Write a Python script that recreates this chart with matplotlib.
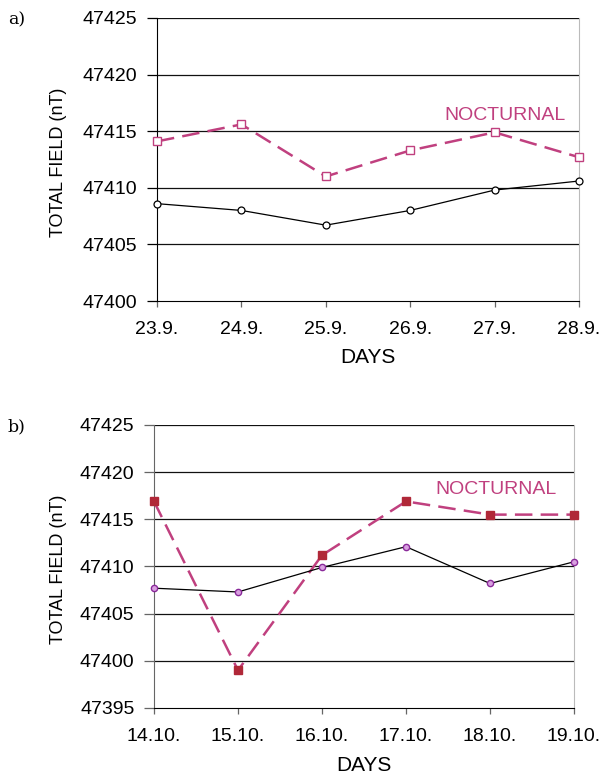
import matplotlib
matplotlib.use("Agg")
import matplotlib.pyplot as plt

plt.rcParams['font.family'] = ['Liberation Sans', 'DejaVu Sans']

days_a = ["23.9.", "24.9.", "25.9.", "26.9.", "27.9.", "28.9."]
noct_a = [47414.1, 47415.6, 47411.0, 47413.3, 47414.9, 47412.7]
day_a = [47408.6, 47408.0, 47406.7, 47408.0, 47409.8, 47410.6]

days_b = ["14.10.", "15.10.", "16.10.", "17.10.", "18.10.", "19.10."]
noct_b = [47416.9, 47399.0, 47411.2, 47416.9, 47415.5, 47415.5]
day_b = [47407.7, 47407.3, 47409.9, 47412.1, 47408.2, 47410.5]

MAG = "#c0407f"
RED = "#b02838"

fig = plt.figure(figsize=(6.04, 7.74), dpi=100)
ax_a = fig.add_axes([157/604, 1-301/774, 422/604, 283/774])
ax_b = fig.add_axes([154/604, 1-708/774, 420/604, 283/774])

def style(ax, days, ylo, yhi, leftcol, left_px, width_px, xlpad):
    x = list(range(len(days)))
    ax.set_xlim(0, len(days)-1)
    ax.set_ylim(ylo, yhi)
    ax.set_yticks(list(range(ylo, yhi+1, 5)))
    ax.set_xticks(x)
    ax.set_xticklabels(days)
    for v in range(ylo + 5, yhi+1, 5):
        ax.axhline(v, color="#111111", lw=0.9, zorder=1)
    ax.spines["top"].set_visible(False)
    ax.spines["right"].set_color("#bbbbbb")
    ax.spines["left"].set_color(leftcol)
    ax.spines["bottom"].set_color("black")
    ax.tick_params(axis="y", direction="out", length=7, width=0.9, labelsize=14, pad=7, color=leftcol)
    ax.tick_params(axis="x", direction="out", length=4.5, width=0.9, labelsize=14, pad=10, color="#666666")
    ax.set_ylabel("TOTAL FIELD (nT)", fontsize=13)
    ax.yaxis.set_label_coords((67 - left_px) / width_px, 0.49)
    ax.set_xlabel("DAYS", fontsize=15, labelpad=xlpad)
    return x

x = style(ax_a, days_a, 47400, 47425, "black", 157, 422, 7)
ax_a.plot(x, day_a, color="black", lw=0.9, marker="o", ms=5, mfc="white", mec="black", mew=0.9, zorder=3, clip_on=False)
ax_a.plot(x, noct_a, color=MAG, lw=1.8, dashes=(7, 3.3), marker="s", ms=6, mfc="white", mec=MAG, mew=1.0, zorder=4, clip_on=False)
ax_a.text(3.41, 47416.4, "NOCTURNAL", color=MAG, fontsize=14, va="center", ha="left")

x = style(ax_b, days_b, 47395, 47425, "#666666", 154, 420, 8)
ax_b.plot(x, noct_b, color=MAG, lw=1.8, dashes=(7, 3.3), marker="s", ms=5.5, mfc=RED, mec=RED, zorder=3, clip_on=False)
ax_b.plot(x, day_b, color="black", lw=0.9, marker="o", ms=4.5, mfc="#d9a0e0", mec="#8a2a9a", mew=1.0, zorder=4, clip_on=False)
ax_b.text(3.35, 47418.2, "NOCTURNAL", color=MAG, fontsize=14, va="center", ha="left")

fig.text(8/604, 1-20/774, "a)", family="DejaVu Serif", fontsize=12.5, va="center", ha="left")
fig.text(8/604, 1-427/774, "b)", family="DejaVu Serif", fontsize=12.5, va="center", ha="left")

fig.savefig("out.png", dpi=100)
